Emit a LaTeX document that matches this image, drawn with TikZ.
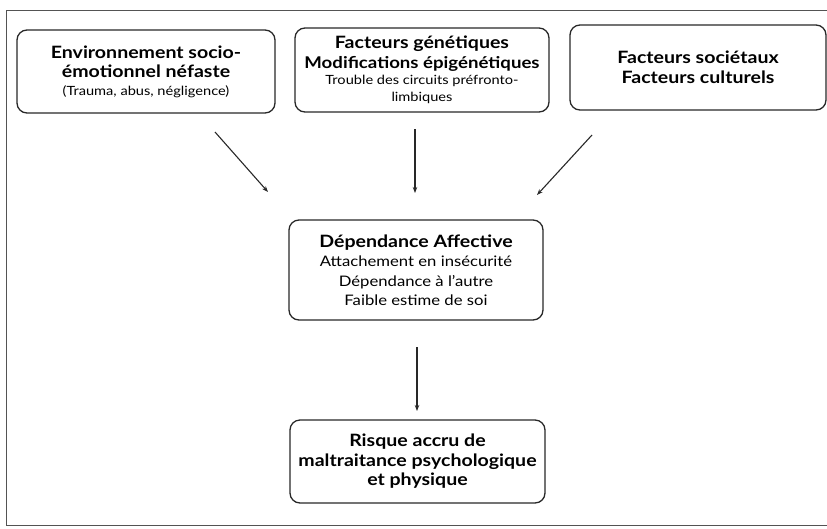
\documentclass[tikz,border=0pt]{standalone}
\usepackage{fontspec}
\setmainfont{Lato}[FakeStretch=1.15]
\usepackage{xcolor}
\usetikzlibrary{positioning,arrows.meta}
\definecolor{inkgray}{RGB}{40,40,40}

\begin{document}
\begin{tikzpicture}[x=1pt,y=-1pt,
  box/.style={draw=inkgray,line width=1.3pt,rounded corners=10pt,align=center,
    inner sep=2pt,font=\fontsize{17}{19.5}\selectfont\bfseries},
  arr/.style={draw=inkgray,line width=1.1pt,-{Stealth[length=6pt,width=4.5pt]}}]
  \useasboundingbox (0,0) rectangle (827,528);
  \clip (0,0) rectangle (827,528);
  % outer frame
  \draw[draw=inkgray!80,line width=1pt] (6,10) rectangle (840,525);
  % top row
  \node[box,minimum width=258pt,minimum height=83pt] (env) at (146,71.5)
    {Environnement socio-\\émotionnel néfaste\\[-2pt]
     {\fontsize{12.7}{16}\selectfont\mdseries (Trauma, abus, négligence)}};
  \node[box,minimum width=254pt,minimum height=84pt] (gen) at (422,70)
    {Facteurs génétiques\\{\fontsize{16.2}{19.5}\selectfont Modifications épigénétiques}\\[-3pt]
     {\fontsize{12.7}{16}\selectfont\mdseries Trouble des circuits préfronto-}\\[-3pt]
     {\fontsize{12.7}{16}\selectfont\mdseries limbiques}};
  \node[box,minimum width=256pt,minimum height=85pt] (soc) at (698,67.5)
    {Facteurs sociétaux\\Facteurs culturels};
  % middle and bottom
  \node[box,minimum width=254pt,minimum height=100pt] (dep) at (416,270)
    {Dépendance Affective\\
     {\fontsize{14.5}{19}\selectfont\mdseries Attachement en insécurité}\\
     {\fontsize{14.5}{19}\selectfont\mdseries Dépendance à l'autre}\\
     {\fontsize{14.5}{19}\selectfont\mdseries Faible estime de soi}};
  \node[box,minimum width=255pt,minimum height=83pt] (risk) at (417.5,461.5)
    {Risque accru de\\maltraitance psychologique\\et physique};
  % arrows
  \coordinate (envS) at (215,132);
  \coordinate (envE) at (268,192);
  \coordinate (genS) at (415,129);
  \coordinate (genE) at (415,193);
  \coordinate (socS) at (592,135);
  \coordinate (socE) at (537,195);
  \coordinate (depS) at (417,347);
  \coordinate (depE) at (417,411);
  \draw[arr] (envS) -- (envE);
  \draw[arr] (genS) -- (genE);
  \draw[arr] (socS) -- (socE);
  \draw[arr] (depS) -- (depE);
\end{tikzpicture}
\end{document}
